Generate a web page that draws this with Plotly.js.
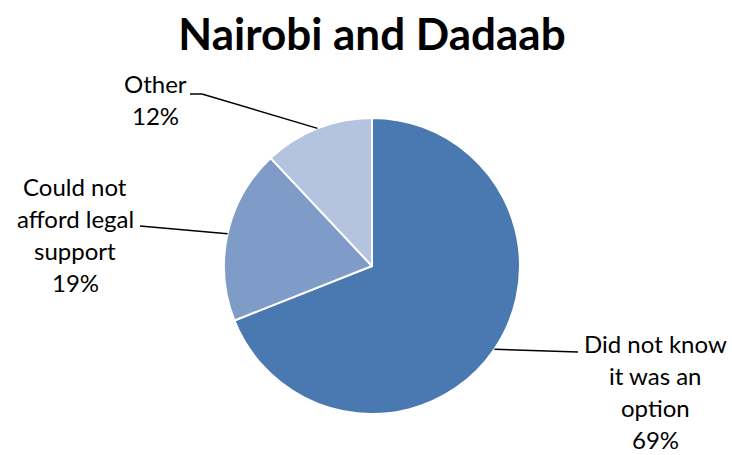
<!DOCTYPE html>
<html>
<head>
<meta charset="utf-8">
<script src="https://cdn.plot.ly/plotly-3.0.1.min.js"></script>
<style>html,body{margin:0;padding:0;background:#fff;}#chart{width:732px;height:455px;}</style>
</head>
<body>
<div id="chart"></div>
<script>
// Data
const categories = ["Did not know it was an option", "Could not afford legal support", "Other"];
const labelLines = [["Did not know", "it was an", "option"], ["Could not", "afford legal", "support"], ["Other"]];
const values = [69, 19, 12];
const colors = ["#4A78B1", "#7F9CC8", "#B4C3DF"];

// Layout geometry (pixels)
const W = 732, H = 455;
const M = {l: 224, r: 212, t: 118, b: 41};
const PW = W - M.l - M.r, PH = H - M.t - M.b;
const fx = px => (px - M.l) / PW;
const fy = py => (H - M.b - py) / PH;

// Label block centres and leader-line anchor points (pixels)
const labelPos = [[655, 391], [75, 234], [155, 100]];
const elbows = [[[578, 352], [578, 352]], [[140, 226], [140, 226]], [[190, 94], [202, 94]]];

const total = values.reduce((a, b) => a + b, 0);
const annotations = [];
const shapes = [];
let cum = 0;
values.forEach((v, i) => {
  const mid = (cum + v / 2) / total;
  cum += v;
  const th = 2 * Math.PI * mid;
  const tx = 0.5 + 0.5 * Math.sin(th);
  const ty = 0.5 + 0.5 * Math.cos(th);
  const e = elbows[i];
  shapes.push({type: 'line', xref: 'paper', yref: 'paper', x0: fx(e[1][0]), y0: fy(e[1][1]), x1: tx, y1: ty, line: {color: '#000', width: 1.5}});
  if (e[0][0] !== e[1][0]) {
    shapes.push({type: 'line', xref: 'paper', yref: 'paper', x0: fx(e[0][0]), y0: fy(e[0][1]), x1: fx(e[1][0]), y1: fy(e[1][1]), line: {color: '#000', width: 1.5}});
  }
  const pct = Math.round(v / total * 100) + '%';
  const lines = labelLines[i].concat([pct]);
  const n = lines.length;
  const spacing = 32;
  lines.forEach((t, k) => {
    const py = labelPos[i][1] + (k - (n - 1) / 2) * spacing;
    annotations.push({xref: 'paper', yref: 'paper', x: fx(labelPos[i][0]), y: fy(py), text: t, showarrow: false, xanchor: 'center', yanchor: 'middle', borderpad: 0, font: {family: 'Lato, sans-serif', size: 24, color: '#000'}});
  });
});

const trace = {
  type: 'pie',
  labels: categories,
  values: values,
  sort: false,
  direction: 'clockwise',
  rotation: 0,
  textinfo: 'none',
  hoverinfo: 'label+percent',
  marker: {colors: colors, line: {color: '#ffffff', width: 2}},
  domain: {x: [0, 1], y: [0, 1]},
  showlegend: false
};

const layout = {
  width: W, height: H,
  margin: M,
  paper_bgcolor: '#fff',
  plot_bgcolor: '#fff',
  title: {text: '<b>Nairobi and Dadaab</b>', x: 372 / W, xref: 'container', y: 0.925, yref: 'container', yanchor: 'middle', font: {family: 'Lato, sans-serif', size: 44, color: '#000'}},
  annotations: annotations,
  shapes: shapes,
  showlegend: false
};

Plotly.newPlot('chart', [trace], layout, {displayModeBar: false, staticPlot: true});
</script>
</body>
</html>
